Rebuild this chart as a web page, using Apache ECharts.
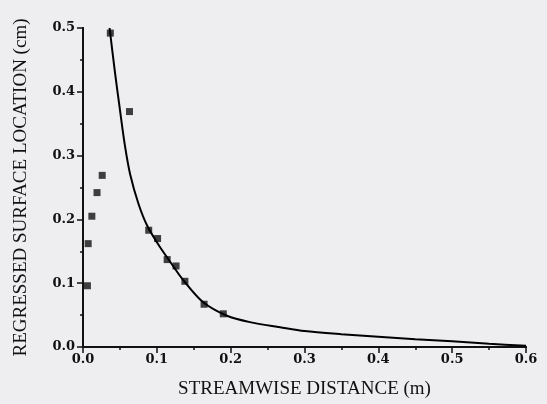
<!DOCTYPE html>
<html>
<head>
<meta charset="utf-8">
<script src="https://cdn.jsdelivr.net/npm/echarts@6/dist/echarts.min.js"></script>
<style>
  html, body { margin: 0; padding: 0; background: #eeeef0; }
  #chart { width: 547px; height: 404px; }
</style>
</head>
<body>
<div id="chart"></div>
<script>
  // measured points (streamwise distance m, regressed surface cm)
  const pointX = [0.006, 0.007, 0.012, 0.019, 0.026, 0.037, 0.063, 0.089, 0.101, 0.114, 0.126, 0.138, 0.164, 0.190];
  const pointY = [0.096, 0.162, 0.205, 0.242, 0.269, 0.492, 0.369, 0.183, 0.170, 0.137, 0.127, 0.103, 0.067, 0.052];

  // fitted curve
  const curveX = [0.036, 0.043, 0.050, 0.057, 0.064, 0.075, 0.087, 0.104, 0.122, 0.135, 0.162, 0.195, 0.226, 0.267, 0.30, 0.35, 0.40, 0.45, 0.50, 0.55, 0.60];
  const curveY = [0.500, 0.433, 0.372, 0.314, 0.270, 0.225, 0.190, 0.157, 0.127, 0.106, 0.071, 0.049, 0.039, 0.031, 0.025, 0.020, 0.016, 0.012, 0.009, 0.005, 0.002];

  const xTicks = ["0.0", "0.1", "0.2", "0.3", "0.4", "0.5", "0.6"];
  const yTicks = ["0.0", "0.1", "0.2", "0.3", "0.4", "0.5"];

  const myChart = echarts.init(document.getElementById("chart"));

  const lbl = { fontFamily: "DejaVu Serif", fontWeight: "bold", fontSize: 13, color: "#111" };
  const ttl = { fontFamily: "Liberation Serif", fontSize: 19, color: "#111" };
  const axLine = { lineStyle: { color: "#111", width: 2 } };

  const option = {
    backgroundColor: "#eeeef0",
    animation: false,
    grid: { left: 83, right: 21, top: 28, bottom: 56 },
    xAxis: [
      {
        type: "value", min: 0, max: 0.6, interval: 0.1,
        name: "STREAMWISE DISTANCE (m)", nameLocation: "middle", nameGap: 33,
        nameTextStyle: ttl,
        axisLine: axLine,
        axisTick: { inside: false, length: 5, lineStyle: { color: "#111", width: 1.5 } },
        minorTick: { show: true, splitNumber: 2, length: 3, lineStyle: { color: "#111", width: 1.5 } },
        axisLabel: Object.assign({ margin: 6, formatter: v => xTicks[Math.round(v * 10)] }, lbl),
        splitLine: { show: false }
      },
      {
        type: "value", position: "top", min: 0, max: 0.6, interval: 0.1,
        axisLine: axLine,
        axisTick: { inside: true, length: 6, lineStyle: { color: "#111", width: 1.5 } },
        minorTick: { show: true, splitNumber: 2, length: 3, lineStyle: { color: "#111", width: 1.5 } },
        axisLabel: { show: false },
        splitLine: { show: false }
      }
    ],
    yAxis: [
      {
        type: "value", min: 0, max: 0.5, interval: 0.1,
        name: "REGRESSED SURFACE LOCATION (cm)", nameLocation: "middle", nameGap: 52,
        nameTextStyle: ttl,
        axisLine: axLine,
        axisTick: { inside: false, length: 5, lineStyle: { color: "#111", width: 1.5 } },
        minorTick: { show: true, splitNumber: 2, length: 3, lineStyle: { color: "#111", width: 1.5 } },
        axisLabel: Object.assign({ margin: 8, formatter: v => yTicks[Math.round(v * 10)] }, lbl),
        splitLine: { show: false }
      },
      {
        type: "value", position: "right", min: 0, max: 0.5, interval: 0.1,
        axisLine: axLine,
        axisTick: { inside: true, length: 6, lineStyle: { color: "#111", width: 1.5 } },
        minorTick: { show: true, splitNumber: 2, length: 3, lineStyle: { color: "#111", width: 1.5 } },
        axisLabel: { show: false },
        splitLine: { show: false }
      }
    ],
    series: [
      {
        name: "fit",
        type: "line",
        smooth: 0.3,
        showSymbol: false,
        lineStyle: { color: "#000", width: 2 },
        data: curveX.map((x, i) => [x, curveY[i]])
      },
      {
        name: "data",
        type: "scatter",
        symbol: "rect",
        symbolSize: 7,
        itemStyle: { color: "#111" },
        data: pointX.map((x, i) => [x, pointY[i]])
      }
    ]
  };

  myChart.setOption(option);
</script>
</body>
</html>
